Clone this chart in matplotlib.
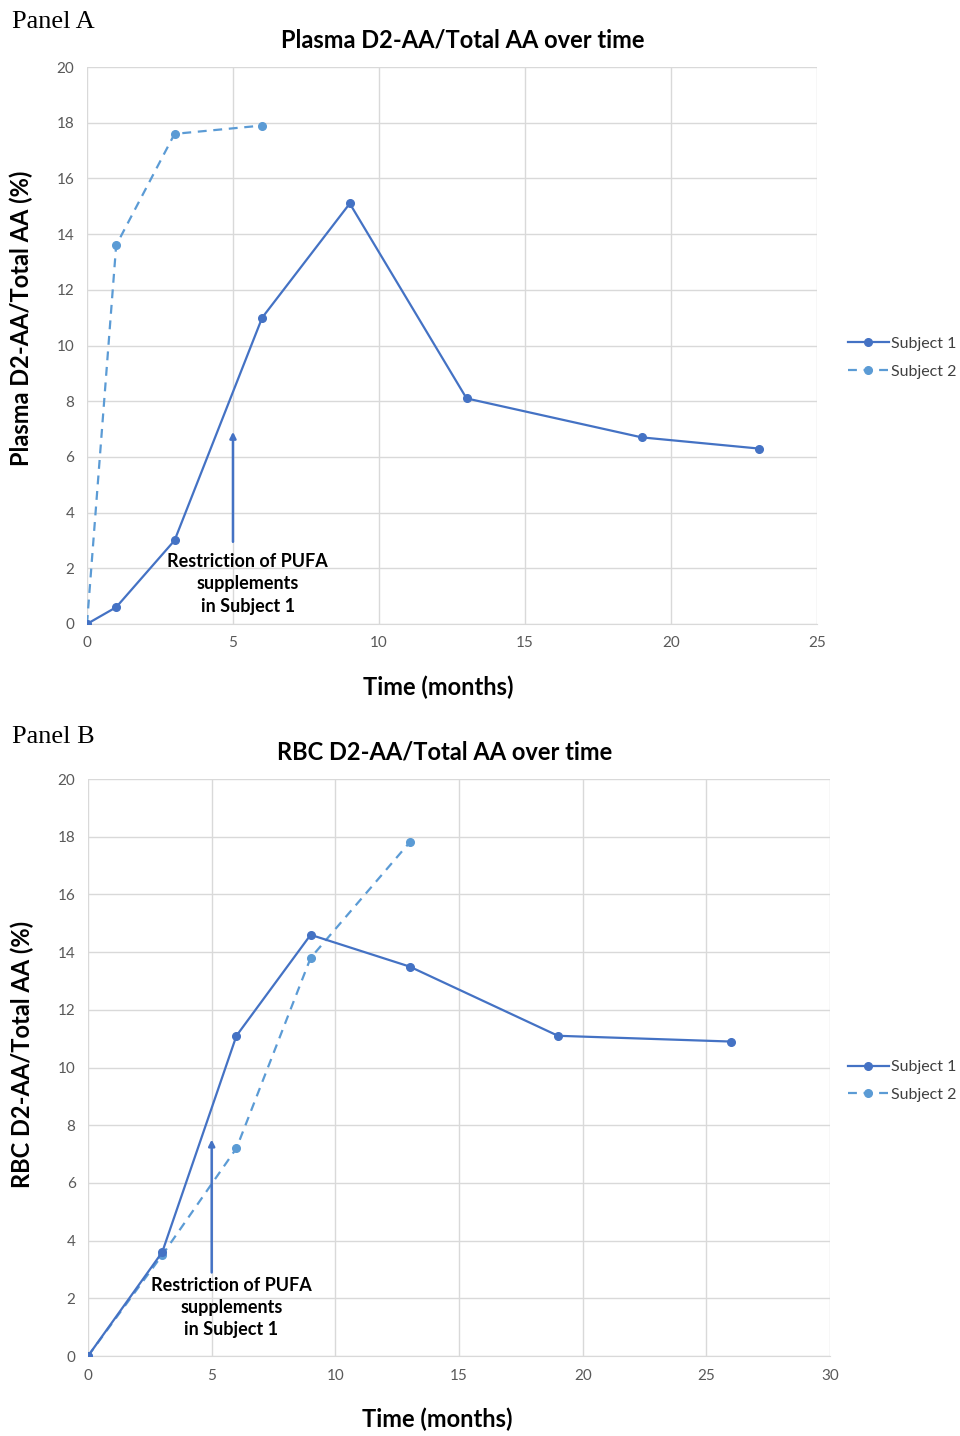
import matplotlib.pyplot as plt

plt.rcParams['font.family'] = ['Lato', 'DejaVu Sans']

# Panel A: plasma
a_t1 = [0, 1, 3, 6, 9, 13, 19, 23]
a_s1 = [0.0, 0.6, 3.0, 11.0, 15.1, 8.1, 6.7, 6.3]
a_t2 = [0, 1, 3, 6]
a_s2 = [0.0, 13.6, 17.6, 17.9]

# Panel B: RBC
b_t1 = [0, 3, 6, 9, 13, 19, 26]
b_s1 = [0.0, 3.6, 11.1, 14.6, 13.5, 11.1, 10.9]
b_t2 = [0, 3, 6, 9, 13]
b_s2 = [0.0, 3.5, 7.2, 13.8, 17.8]

c1 = '#4472C4'
c2 = '#5B9BD5'
tick_c = '#595959'
grid_c = '#d9d9d9'

fig = plt.figure(figsize=(9.6, 14.36), dpi=100)

def panel(rect, t1, s1, t2, s2, xmax, title, ylabel, arrow, txt_xy, leg_y,
          title_x, xlab_x, ylab_xy):
    ax = fig.add_axes(rect)
    l1, = ax.plot(t1, s1, '-', color=c1, lw=1.6, marker='o', ms=5.5,
                  label='Subject 1', zorder=3)
    l2, = ax.plot(t2, s2, '--', color=c2, lw=1.6, marker='o', ms=5.5,
                  label='Subject 2', dashes=(4, 3), zorder=2)
    ax.set_xlim(0, xmax)
    ax.set_ylim(0, 20)
    ax.set_xticks(range(0, xmax + 1, 5))
    ax.set_yticks(range(0, 21, 2))
    ax.grid(True, color=grid_c, lw=1)
    ax.set_axisbelow(True)
    for s in ['top', 'right', 'left']:
        ax.spines[s].set_visible(False)
    ax.spines['bottom'].set_color(grid_c)
    ax.tick_params(length=0, labelsize=11, labelcolor=tick_c, pad=9)
    ax.set_title(title, fontsize=17, fontweight='bold', pad=14, x=title_x)
    ax.set_ylabel(ylabel, fontsize=17, fontweight='bold')
    ax.yaxis.set_label_coords(*ylab_xy)
    ax.set_xlabel('Time (months)', fontsize=17, fontweight='bold', labelpad=18,
                  x=xlab_x)
    ax.annotate('', xy=(5, arrow[1]), xytext=(5, arrow[0]),
                arrowprops=dict(arrowstyle='-|>', color=c1, lw=1.8,
                                mutation_scale=9))
    ax.text(txt_xy[0], txt_xy[1], 'Restriction of PUFA\nsupplements\nin Subject 1',
            ha='center', va='top', fontsize=13, fontweight='bold',
            linespacing=1.38)
    fig.legend(handles=[l1, l2], loc='center left', bbox_to_anchor=(0.883, leg_y),
               frameon=False, fontsize=11.5, handlelength=2.6,
               handletextpad=0.1, labelspacing=0.85, borderpad=0,
               borderaxespad=0, labelcolor='#404040')
    return ax

panel([0.0906, 0.5655, 0.7604, 0.3878], a_t1, a_s1, a_t2, a_s2, 25,
      'Plasma D2-AA/Total AA over time', 'Plasma D2-AA/Total AA (%)',
      (2.85, 7.0), (5.5, 2.55), 0.751, 0.515, 0.481, (-0.074, 0.549))
panel([0.0917, 0.0557, 0.7729, 0.4018], b_t1, b_s1, b_t2, b_s2, 30,
      'RBC D2-AA/Total AA over time', 'RBC D2-AA/Total AA (%)',
      (2.8, 7.6), (5.8, 2.75), 0.2472, 0.481, 0.470, (-0.073, 0.522))

fig.text(0.012, 0.9847, 'Panel A', fontsize=19, family='Liberation Serif',
         va='center')
fig.text(0.012, 0.4868, 'Panel B', fontsize=19, family='Liberation Serif',
         va='center')

fig.savefig('out.png', dpi=100)
